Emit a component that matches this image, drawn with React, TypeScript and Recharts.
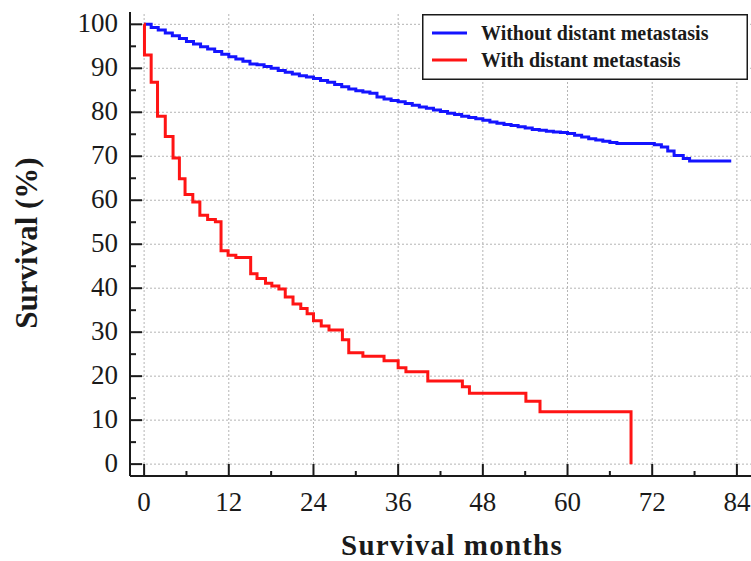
import React from "react";
import { LineChart, Line, XAxis, YAxis, ReferenceLine } from "recharts";

// Kaplan-Meier style survival curves (months vs %)
const withoutMonths = [
  0, 1, 2, 3, 4, 5, 6, 7, 8, 9, 10, 11, 12, 13, 14, 15, 16, 17, 18, 19, 20, 21, 22, 23, 24, 25, 26, 27, 28, 29,
  30, 31, 32, 33, 34, 35, 36, 37, 38, 39, 40, 41, 42, 43, 44, 45, 46, 47, 48, 49, 50, 51, 52, 53, 54, 55, 56,
  57, 58, 59, 60, 61, 62, 63, 64, 65, 66, 67, 72.3, 73.3, 74.2, 75.1, 76.4, 77.3, 83.2,
];
const withoutSurvival = [
  100, 99.3, 98.7, 98.0, 97.4, 96.8, 96.1, 95.5, 94.9, 94.4, 93.8, 93.2, 92.6, 92.1, 91.6, 91.0, 90.8, 90.4,
  90.0, 89.5, 89.1, 88.7, 88.3, 88.0, 87.7, 87.2, 86.8, 86.3, 85.8, 85.3, 84.9, 84.6, 84.3, 83.5, 83.0, 82.7,
  82.4, 82.0, 81.6, 81.2, 80.9, 80.5, 80.2, 79.8, 79.5, 79.1, 78.8, 78.5, 78.2, 77.8, 77.5, 77.2, 77.0, 76.7,
  76.4, 76.1, 75.9, 75.7, 75.5, 75.4, 75.2, 74.8, 74.4, 74.0, 73.7, 73.4, 73.1, 72.9, 72.6, 72.1, 71.2, 70.2,
  69.5, 68.9, 68.9,
];
const withMonths = [
  0, 0.05, 1.0, 1.9, 3.0, 4.1, 5.0, 5.8, 6.9, 7.9, 9.0, 10.1, 10.9, 11.9, 13.0, 15.1, 16.0, 17.2, 18.1, 19.1,
  20.0, 21.1, 22.2, 23.1, 24.0, 25.1, 26.2, 28.1, 29.0, 31.0, 34.0, 36.0, 37.1, 40.2, 45.1, 46.1, 54.1, 56.1,
  69.0,
];
const withSurvival = [
  100, 93, 86.8, 79.1, 74.5, 69.6, 64.9, 61.3, 59.6, 56.6, 55.6, 55.1, 48.5, 47.5, 47.0, 43.3, 42.2, 41.1, 40.5,
  39.8, 38.0, 36.4, 35.4, 34.2, 32.6, 31.4, 30.5, 28.3, 25.3, 24.5, 23.5, 21.9, 21.0, 18.9, 17.6, 16.1, 14.3,
  11.9, 0,
];

const seriesNames = ["Without distant metastasis", "With distant metastasis"];
const seriesColors = ["#1414ff", "#ff1414"];

const xMajorTicks = [0, 12, 24, 36, 48, 60, 72, 84];
const xMinorTicks = [6, 18, 30, 42, 54, 66, 78];
const yMajorTicks = [0, 10, 20, 30, 40, 50, 60, 70, 80, 90, 100];
const yMinorTicks = [5, 15, 25, 35, 45, 55, 65, 75, 85, 95];

const withoutData = withoutMonths.map((t, i) => ({ t, s: withoutSurvival[i] }));
const withData = withMonths.map((t, i) => ({ t, s: withSurvival[i] }));

const FONT = '"Liberation Serif", "Times New Roman", serif';
const INK = "#1a1a1a";

const YTick = ({ x, y, payload }: any) => {
  const major = yMajorTicks.includes(payload.value);
  return (
    <g>
      <line x1={x} y1={y} x2={x + (major ? 12 : 6)} y2={y} stroke={INK} strokeWidth={2} />
      {major && (
        <text x={x - 12} y={y + 8} textAnchor="end" fontFamily={FONT} fontSize={27} fill={INK}>
          {payload.value}
        </text>
      )}
    </g>
  );
};

const XTick = ({ x, y, payload }: any) => {
  const major = xMajorTicks.includes(payload.value);
  return (
    <g>
      <line x1={x} y1={y} x2={x} y2={y - (major ? 12 : 5)} stroke={INK} strokeWidth={2} />
      {major && (
        <text x={x} y={y + 35} textAnchor="middle" fontFamily={FONT} fontSize={27} fill={INK}>
          {payload.value}
        </text>
      )}
    </g>
  );
};

export default function App() {
  return (
    <div style={{ position: "fixed", left: 0, top: 0, background: "#fff" }}>
      <LineChart width={751} height={561} margin={{ top: 12, right: 0, bottom: 0, left: 0 }}>
        <XAxis
          type="number"
          dataKey="t"
          domain={[-2, 86]}
          ticks={[...xMajorTicks, ...xMinorTicks].sort((a, b) => a - b)}
          interval={0}
          allowDataOverflow
          height={85}
          tickSize={0}
          tickMargin={0}
          tickLine={false}
          tick={<XTick />}
          axisLine={{ stroke: INK, strokeWidth: 2 }}
        />
        <YAxis
          type="number"
          domain={[-2.7, 102.8]}
          ticks={[...yMajorTicks, ...yMinorTicks].sort((a, b) => a - b)}
          interval={0}
          allowDataOverflow
          width={130}
          tickSize={0}
          tickMargin={0}
          tickLine={false}
          tick={<YTick />}
          axisLine={{ stroke: INK, strokeWidth: 2 }}
        />
        {yMajorTicks.map((v) => (
          <ReferenceLine key={"gy" + v} y={v} stroke="#b4b4b4" strokeDasharray="2 2" strokeWidth={1} />
        ))}
        {xMajorTicks.map((v) => (
          <ReferenceLine key={"gx" + v} x={v} stroke="#b4b4b4" strokeDasharray="2 2" strokeWidth={1} />
        ))}
        <Line
          data={withoutData}
          dataKey="s"
          name={seriesNames[0]}
          type="stepAfter"
          stroke={seriesColors[0]}
          strokeWidth={3}
          dot={false}
          activeDot={false}
          isAnimationActive={false}
        />
        <Line
          data={withData}
          dataKey="s"
          name={seriesNames[1]}
          type="stepAfter"
          stroke={seriesColors[1]}
          strokeWidth={3}
          dot={false}
          activeDot={false}
          isAnimationActive={false}
        />
      </LineChart>
      <svg width={751} height={561} style={{ position: "absolute", left: 0, top: 0, pointerEvents: "none" }}>
        {/* legend box */}
        <g transform="translate(422,14)">
          <rect x={0.75} y={0.75} width={324.5} height={64.5} fill="#fff" stroke={INK} strokeWidth={1.5} />
          {seriesNames.map((name, i) => (
            <g key={name}>
              <line x1={10} x2={45} y1={19 + i * 27} y2={19 + i * 27} stroke={seriesColors[i]} strokeWidth={3} />
              <text x={59} y={26 + i * 27} fontFamily={FONT} fontWeight="bold" fontSize={20} fill={INK}>
                {name}
              </text>
            </g>
          ))}
        </g>
        <text
          x={452}
          y={555}
          textAnchor="middle"
          fontFamily={FONT}
          fontWeight="bold"
          fontSize={29}
          letterSpacing={1.2}
          fill={INK}
        >
          Survival months
        </text>
        <text
          transform="translate(37,243) rotate(-90)"
          textAnchor="middle"
          fontFamily={FONT}
          fontWeight="bold"
          fontSize={31}
          fill={INK}
        >
          Survival (%)
        </text>
      </svg>
    </div>
  );
}
